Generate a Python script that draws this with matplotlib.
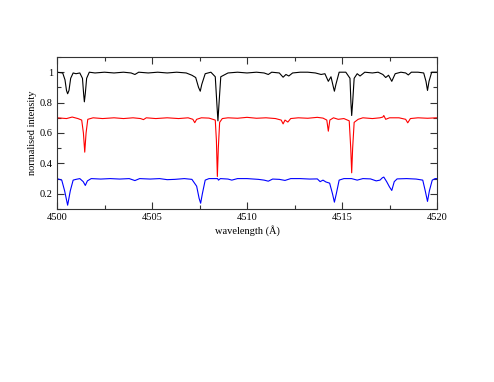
import numpy as np
import matplotlib
matplotlib.use("Agg")
import matplotlib.pyplot as plt
from matplotlib.ticker import MultipleLocator

# spectra: (wavelength, normalised intensity)
black = [(4500.0, 1.0), (4500.3, 0.995), (4500.42, 0.95), (4500.5, 0.88), (4500.56, 0.858),
         (4500.63, 0.88), (4500.72, 0.96), (4500.85, 0.995), (4501.0, 0.99), (4501.2, 0.995),
         (4501.34, 0.96), (4501.4, 0.86), (4501.44, 0.805), (4501.49, 0.86), (4501.56, 0.96),
         (4501.7, 1.0), (4502.0, 0.995), (4502.5, 1.0), (4503.0, 0.995),
         (4503.5, 1.0), (4503.9, 0.995), (4504.1, 0.985), (4504.3, 1.0), (4504.8, 0.995),
         (4505.3, 1.0), (4505.8, 0.995), (4506.3, 1.0), (4506.8, 0.995), (4507.1, 0.98),
         (4507.3, 0.965), (4507.45, 0.9), (4507.54, 0.875), (4507.62, 0.92), (4507.8, 0.99),
         (4508.1, 1.0), (4508.33, 0.97), (4508.42, 0.78), (4508.47, 0.68), (4508.52, 0.78),
         (4508.62, 0.97), (4509.0, 0.995), (4509.5, 1.0), (4510.0, 0.995), (4510.5, 1.0),
         (4510.9, 0.995), (4511.12, 0.985), (4511.3, 1.0), (4511.7, 0.995), (4511.9, 0.967),
         (4512.05, 0.985), (4512.2, 0.975), (4512.4, 0.995), (4512.8, 1.0), (4513.2, 1.0),
         (4513.6, 0.995), (4513.9, 0.985), (4514.1, 0.99), (4514.28, 0.94), (4514.42, 0.97),
         (4514.55, 0.9), (4514.6, 0.875), (4514.68, 0.92), (4514.85, 1.0), (4515.2, 1.0),
         (4515.42, 0.96), (4515.47, 0.8), (4515.51, 0.715), (4515.56, 0.8), (4515.64, 0.96),
         (4515.8, 0.99), (4515.95, 0.975), (4516.2, 1.0),
         (4516.6, 0.995), (4516.9, 1.0), (4517.15, 0.985), (4517.3, 0.965), (4517.45, 0.98),
         (4517.62, 0.94), (4517.8, 0.99), (4518.1, 1.0), (4518.35, 0.995), (4518.49, 0.982),
         (4518.65, 1.0), (4519.0, 1.0), (4519.3, 0.995), (4519.42, 0.94), (4519.5, 0.88),
         (4519.58, 0.94), (4519.72, 1.0), (4520.0, 1.0)]

red = [(4500.0, 0.70), (4500.5, 0.695), (4500.8, 0.705), (4501.1, 0.695), (4501.3, 0.685),
       (4501.39, 0.6), (4501.46, 0.474), (4501.53, 0.6), (4501.62, 0.69), (4501.9, 0.7),
       (4502.4, 0.695), (4503.0, 0.7), (4503.5, 0.695), (4504.0, 0.7), (4504.4, 0.695),
       (4504.55, 0.688), (4504.7, 0.7), (4505.2, 0.695), (4505.8, 0.7), (4506.4, 0.695),
       (4506.9, 0.7), (4507.15, 0.69), (4507.25, 0.668), (4507.35, 0.69), (4507.6, 0.7),
       (4508.0, 0.698), (4508.33, 0.685), (4508.39, 0.55), (4508.44, 0.314), (4508.49, 0.5),
       (4508.56, 0.67), (4508.7, 0.695), (4509.0, 0.7), (4509.5, 0.697), (4510.0, 0.703),
       (4510.5, 0.697), (4511.0, 0.7), (4511.5, 0.695), (4511.8, 0.685), (4511.9, 0.66),
       (4512.0, 0.685), (4512.15, 0.672), (4512.3, 0.695), (4512.7, 0.7), (4513.2, 0.697),
       (4513.7, 0.703), (4514.0, 0.698), (4514.2, 0.685), (4514.28, 0.612), (4514.36, 0.685),
       (4514.55, 0.7), (4514.8, 0.69), (4515.1, 0.695), (4515.38, 0.68), (4515.46, 0.5),
       (4515.51, 0.338), (4515.56, 0.5), (4515.64, 0.67), (4515.85, 0.69), (4516.1, 0.7),
       (4516.6, 0.695), (4517.0, 0.7), (4517.15, 0.705), (4517.2, 0.715), (4517.3, 0.69),
       (4517.5, 0.7), (4518.0, 0.7), (4518.35, 0.69), (4518.46, 0.667), (4518.6, 0.695),
       (4519.0, 0.7), (4519.5, 0.697), (4520.0, 0.7)]

blue = [(4500.0, 0.30), (4500.25, 0.29), (4500.4, 0.22), (4500.56, 0.125), (4500.7, 0.22),
        (4500.85, 0.29), (4501.0, 0.295), (4501.2, 0.3), (4501.38, 0.28), (4501.49, 0.255),
        (4501.6, 0.285), (4501.8, 0.3), (4502.3, 0.297), (4502.8, 0.3), (4503.3, 0.297),
        (4503.8, 0.3), (4504.1, 0.287), (4504.35, 0.3), (4504.9, 0.297), (4505.4, 0.3),
        (4505.8, 0.293), (4506.2, 0.295), (4506.7, 0.3), (4507.1, 0.295), (4507.35, 0.25),
        (4507.48, 0.17), (4507.56, 0.138), (4507.65, 0.2), (4507.8, 0.29), (4508.0, 0.3),
        (4508.45, 0.3), (4508.5, 0.29), (4508.6, 0.3), (4509.0, 0.297), (4509.2, 0.29),
        (4509.5, 0.3), (4510.0, 0.3), (4510.6, 0.295), (4510.9, 0.29), (4511.12, 0.283),
        (4511.35, 0.297), (4511.7, 0.295), (4512.0, 0.288), (4512.3, 0.3), (4512.8, 0.3),
        (4513.3, 0.297), (4513.7, 0.298), (4513.85, 0.28), (4514.0, 0.29), (4514.15, 0.278),
        (4514.35, 0.27), (4514.5, 0.2), (4514.6, 0.145), (4514.7, 0.2), (4514.85, 0.29),
        (4515.1, 0.3), (4515.5, 0.3), (4515.8, 0.29), (4516.1, 0.3), (4516.5, 0.298),
        (4516.8, 0.285), (4517.0, 0.29), (4517.12, 0.305), (4517.2, 0.31), (4517.35, 0.28),
        (4517.5, 0.245), (4517.62, 0.222), (4517.75, 0.28), (4517.9, 0.298), (4518.4, 0.3),
        (4518.9, 0.297), (4519.25, 0.29), (4519.38, 0.22), (4519.5, 0.15), (4519.6, 0.22),
        (4519.75, 0.29), (4519.9, 0.3), (4520.0, 0.3)]

spectra = [(black, "black"), (red, "#ff0000"), (blue, "#0000ff")]

plt.rcParams['font.family'] = ['Liberation Serif', 'DejaVu Serif']

fig = plt.figure(figsize=(4.94, 3.82), dpi=100)
ax = fig.add_axes([57 / 494, 1 - 209 / 382, 380 / 494, 152 / 382])

for data, col in spectra:
    arr = np.array(data)
    ax.plot(arr[:, 0], arr[:, 1], color=col, lw=0.8)

ax.set_xlim(4500, 4520)
ax.set_ylim(0.1, 1.1)
ax.xaxis.set_major_locator(MultipleLocator(5))
ax.xaxis.set_minor_locator(MultipleLocator(2.5))
ax.yaxis.set_major_locator(MultipleLocator(0.2))
ax.yaxis.set_minor_locator(MultipleLocator(0.1))
ax.yaxis.set_major_formatter(plt.FuncFormatter(lambda v, p: "%g" % round(v, 2)))
ax.tick_params(which='both', direction='in', top=True, right=True, labelsize=7.5,
               width=0.8, color='#333333', pad=3)
ax.tick_params(which='major', length=5)
ax.tick_params(which='minor', length=3)
for s in ax.spines.values():
    s.set_linewidth(0.8)
    s.set_color('#333333')

ax.set_xlabel("wavelength (Å)", fontsize=7.5, labelpad=2)
ax.set_ylabel("normalised intensity", fontsize=7.5, labelpad=2)

fig.savefig("out.png", dpi=100)
